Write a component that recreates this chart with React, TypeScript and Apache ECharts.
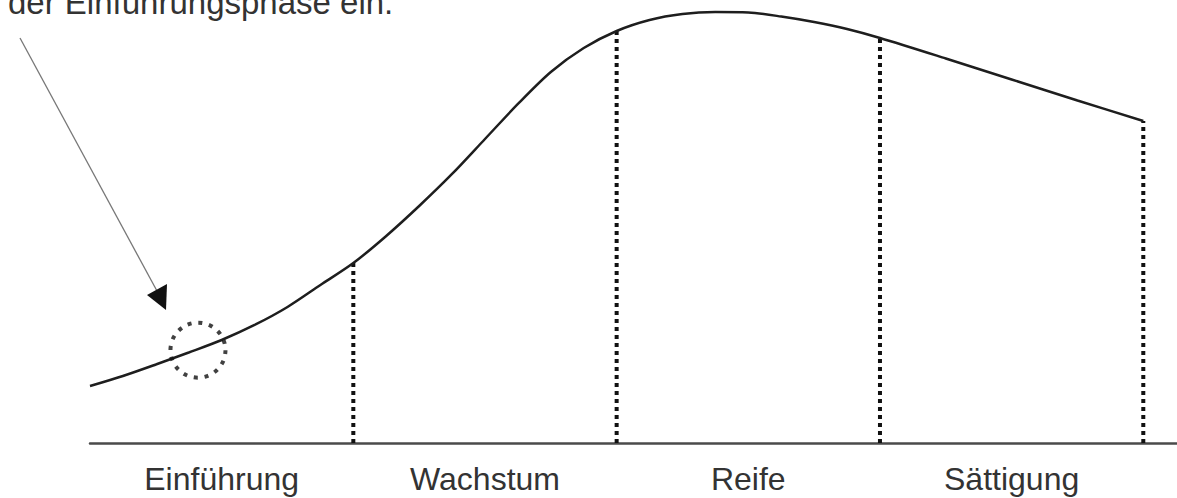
import React, { useEffect, useRef } from "react";
import * as echarts from "echarts";

// Phase labels (centred under each phase)
const phaseNames = ["Einführung", "Wachstum", "Reife", "Sättigung"];
const phaseCenters = [0.5, 1.5, 2.5, 3.5];
// Phase boundaries (dotted verticals)
const boundaryX = [1, 2, 3, 4];

// Product life-cycle curve (x: time in phase units, y: relative sales)
const curveX = [
  0, 0.125, 0.25, 0.375, 0.5, 0.625, 0.75, 0.875, 1.0, 1.125, 1.25, 1.375, 1.5, 1.625, 1.75, 1.875,
  2.0, 2.125, 2.25, 2.375, 2.5, 2.625, 2.75, 2.875, 3.0, 3.25, 3.5, 3.75, 4.0,
];
const curveY = [
  12.95, 15.23, 17.84, 20.57, 23.41, 26.82, 30.91, 35.91, 40.9, 47.05, 53.86, 61.14, 69.09, 77.05, 84.32, 89.77,
  93.64, 96.14, 97.5, 97.95, 97.84, 96.93, 95.68, 94.09, 92.05, 87.39, 82.61, 77.84, 73.18,
];

// Highlighted point in the introduction phase
const markedPoint = [0.41, 21.1];

const annotation = "der Einführungsphase ein.";

const FONT = "'Liberation Sans', Arial, Helvetica, sans-serif";

export default function App() {
  const ref = useRef<HTMLDivElement>(null);
  useEffect(() => {
    if (!ref.current) return;
    const chart = echarts.init(ref.current, undefined, { renderer: "svg" });
    const curve = curveX.map((x, i) => [x, curveY[i]]);
    const boundarySeries = boundaryX.map((bx) => {
      const idx = curveX.indexOf(bx);
      const top = curveY[idx];
      return {
        type: "line",
        data: [
          [bx, 0],
          [bx, top],
        ],
        symbol: "none",
        silent: true,
        lineStyle: { color: "#111", width: 4, type: [4, 4], cap: "butt" },
        z: 2,
      };
    });
    chart.setOption({
      animation: false,
      grid: { left: 90, right: 0, top: 3, bottom: 55, containLabel: false },
      xAxis: {
        type: "value",
        min: 0,
        max: 4.128,
        interval: 0.5,
        splitLine: { show: false },
        axisTick: { show: false },
        axisLine: { show: true, lineStyle: { color: "#4a4a4a", width: 2.5 } },
        axisLabel: {
          showMaxLabel: false,
          showMinLabel: false,
          margin: 20,
          fontSize: 32,
          fontFamily: FONT,
          color: "#333",
          formatter: (v: number) => {
            const i = phaseCenters.findIndex((c) => Math.abs(c - v) < 1e-6);
            return i >= 0 ? phaseNames[i] : "";
          },
        },
      },
      yAxis: {
        type: "value",
        min: 0,
        max: 100,
        show: false,
        splitLine: { show: false },
      },
      series: [
        {
          type: "line",
          data: curve,
          smooth: 0.3,
          symbol: "none",
          silent: true,
          lineStyle: { color: "#1e1e1e", width: 2.5 },
          z: 3,
        },
        ...boundarySeries,
        {
          type: "scatter",
          data: [markedPoint],
          symbol: "circle",
          symbolSize: 55,
          silent: true,
          itemStyle: {
            color: "rgba(0,0,0,0)",
            borderColor: "#111",
            borderWidth: 4,
            borderType: [4, 6.8],
          },
          z: 4,
        },
      ],
      graphic: [
        {
          type: "text",
          x: 8,
          y: 2,
          style: {
            text: annotation,
            font: `33px ${FONT}`,
            fill: "#333",
            verticalAlign: "middle",
            align: "left",
          },
        },
        {
          type: "line",
          shape: { x1: 20, y1: 38, x2: 157, y2: 291 },
          style: { stroke: "#777", lineWidth: 1.3 },
        },
        {
          type: "polygon",
          shape: {
            points: [
              [147, 295],
              [167, 284],
              [166, 310],
            ],
          },
          style: { fill: "#111" },
        },
      ],
    });
    return () => chart.dispose();
  }, []);
  return (
    <div
      ref={ref}
      style={{ position: "absolute", left: 0, top: 0, width: 1177, height: 498 }}
    />
  );
}
